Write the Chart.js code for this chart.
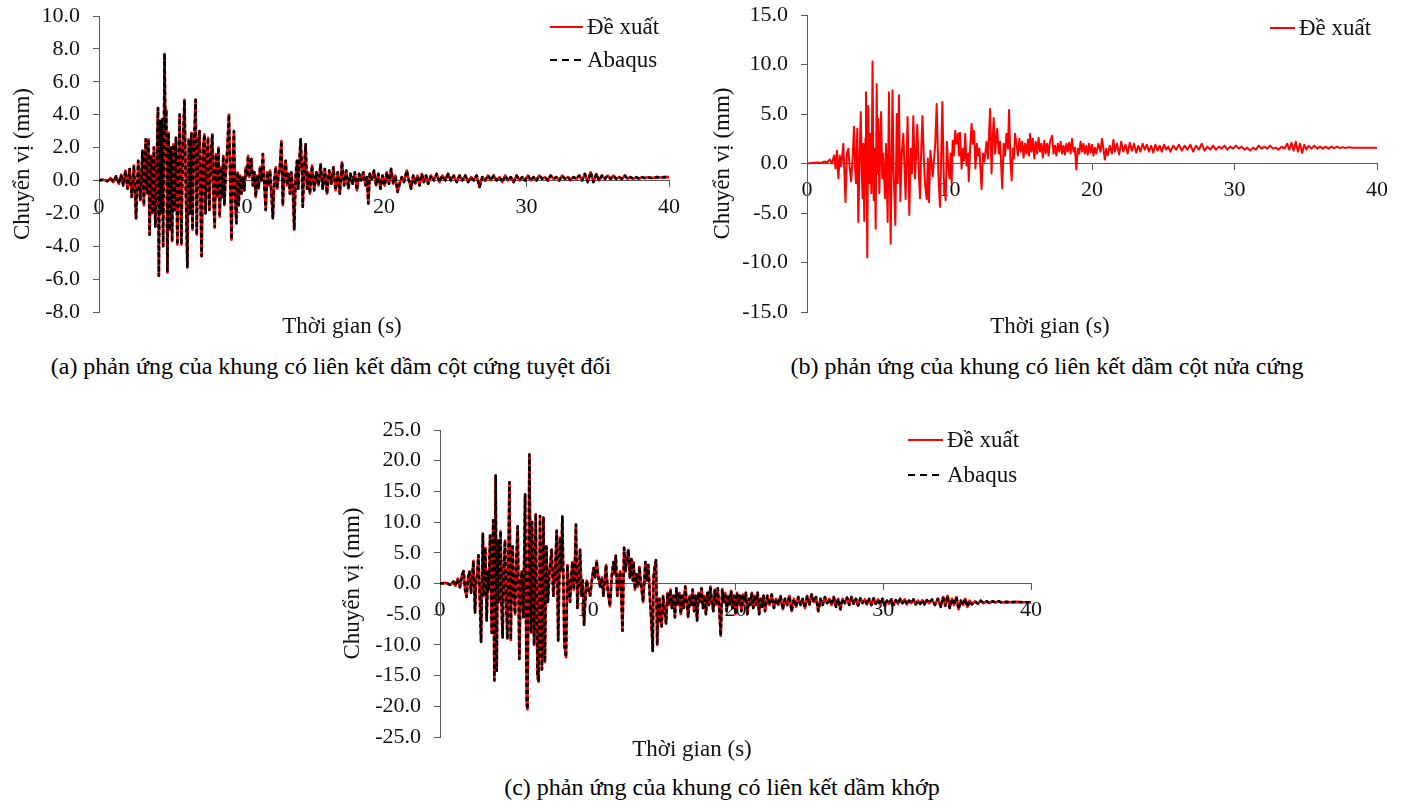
<!DOCTYPE html>
<html>
<head>
<meta charset="utf-8">
<script src="https://cdn.jsdelivr.net/npm/chart.js@4.4.0/dist/chart.umd.min.js"></script>
<style>
  body { margin: 0; background: #fff; width: 1402px; height: 804px; position: relative; overflow: hidden; font-family: 'Liberation Serif', 'Times New Roman', serif; }
  .box { position: absolute; }
  .cap { position: absolute; font-size: 24px; color: #000; white-space: nowrap; transform: translate(-50%, -50%); }
</style>
</head>
<body>
<div class="box" style="left:0;top:0;width:700px;height:345px"><canvas id="chartA"></canvas></div>
<div class="box" style="left:700px;top:0;width:702px;height:345px"><canvas id="chartB"></canvas></div>
<div class="box" style="left:330px;top:415px;width:720px;height:350px"><canvas id="chartC"></canvas></div>
<div class="cap" style="left:331px;top:366px">(a) phản ứng của khung có liên kết dầm cột cứng tuyệt đối</div>
<div class="cap" style="left:1047px;top:366px">(b) phản ứng của khung có liên kết dầm cột nửa cứng</div>
<div class="cap" style="left:722px;top:787px">(c) phản ứng của khung có liên kết dầm khớp</div>
<script>
// (a) rigid connection - time (s) and displacement (mm)
const timeA = [
  0, 0.3, 0.6, 0.8, 1.0, 1.2, 1.4, 1.55, 1.7, 1.85,
  2.0, 2.15, 2.3, 2.45, 2.6, 2.75, 2.9, 3.05, 3.15, 3.28,
  3.38, 3.47, 3.55, 3.65, 3.75, 3.85, 3.95, 4.05, 4.14, 4.2,
  4.28, 4.35, 4.42, 4.5, 4.6, 4.66, 4.72, 4.8, 4.88, 4.96,
  5.05, 5.13, 5.22, 5.3, 5.4, 5.5, 5.6, 5.66, 5.78, 5.88,
  6.0, 6.1, 6.2, 6.3, 6.4, 6.48, 6.56, 6.65, 6.78, 6.86,
  6.95, 7.06, 7.13, 7.2, 7.3, 7.4, 7.48, 7.56, 7.65, 7.74,
  7.85, 7.95, 8.05, 8.12, 8.2, 8.3, 8.38, 8.47, 8.56, 8.65,
  8.72, 8.8, 8.9, 9.0, 9.12, 9.2, 9.3, 9.38, 9.47, 9.55,
  9.64, 9.72, 9.8, 9.9, 10.0, 10.1, 10.2, 10.3, 10.4, 10.46,
  10.55, 10.62, 10.7, 10.8, 10.9, 11.0, 11.1, 11.2, 11.3, 11.4,
  11.5, 11.6, 11.7, 11.8, 11.9, 12.0, 12.1, 12.2, 12.3, 12.4,
  12.5, 12.6, 12.7, 12.8, 12.9, 13.0, 13.1, 13.2, 13.3, 13.4,
  13.5, 13.6, 13.7, 13.8, 13.9, 13.98, 14.05, 14.15, 14.25, 14.3,
  14.4, 14.5, 14.6, 14.7, 14.8, 14.95, 15.1, 15.25, 15.4, 15.55,
  15.7, 15.85, 16.0, 16.15, 16.3, 16.45, 16.6, 16.75, 16.9, 17.05,
  17.2, 17.35, 17.5, 17.65, 17.8, 17.95, 18.1, 18.25, 18.4, 18.55,
  18.7, 18.8, 18.9, 19.0, 19.15, 19.3, 19.45, 19.6, 19.75, 19.9,
  20.05, 20.2, 20.35, 20.5, 20.65, 20.8, 20.95, 21.1, 21.25, 21.4,
  21.6, 21.75, 21.9, 22.05, 22.2, 22.35, 22.5, 22.65, 22.8, 22.95,
  23.1, 23.3, 23.5, 23.7, 23.9, 24.1, 24.3, 24.5, 24.7, 24.9,
  25.1, 25.3, 25.5, 25.7, 25.9, 26.1, 26.3, 26.5, 26.7, 26.9,
  27.1, 27.3, 27.5, 27.7, 27.9, 28.1, 28.3, 28.5, 28.7, 28.9,
  29.1, 29.3, 29.5, 29.7, 29.9, 30.1, 30.3, 30.5, 30.7, 30.9,
  31.1, 31.3, 31.5, 31.7, 31.9, 32.1, 32.3, 32.5, 32.7, 32.9,
  33.1, 33.3, 33.5, 33.7, 33.9, 34.1, 34.3, 34.5, 34.7, 34.9,
  35.1, 35.3, 35.5, 35.7, 35.9, 36.1, 36.3, 36.5, 36.7, 36.9,
  37.1, 37.3, 37.5, 37.7, 37.9, 38.1, 38.3, 38.5, 38.8, 39.1,
  39.4, 39.7, 40.0
];
const deXuatA = [
  0, 0.05, -0.05, 0.15, -0.1, 0.25, -0.2, 0.35, -0.3, 0.6,
  -0.5, 0.7, -1.0, 0.9, -2.3, 1.2, -1.2, 1.8, -1.5, 2.5,
  -0.8, 2.5, -3.3, 1.5, -2.0, 2.0, -2.8, 1.0, 4.4, -5.8,
  3.6, -2.0, 3.7, -4.0, 7.7, 3.0, 4.3, -5.6, 2.9, -3.0,
  2.0, -3.7, 2.2, -1.8, 2.6, -3.9, 1.0, 4.0, -3.9, 2.0,
  4.9, -1.0, -5.3, 2.5, -2.0, 2.9, -3.0, 1.5, 4.9, -3.3,
  2.2, 3.0, -1.5, -4.6, 2.0, 2.8, -2.0, 1.0, 2.6, -1.8,
  1.5, 2.8, -1.5, -2.85, 1.6, -1.0, 2.0, -2.2, 0.8, -1.0,
  1.5, -1.5, 0.5, 1.8, 4.0, 0.5, -3.6, 1.0, 3.0, -1.0,
  -2.6, 0.5, -1.5, 0.3, -0.8, 0.2, -0.6, 0.8, 0.3, 1.5,
  0.2, 1.0, 1.3, -0.3, 0.5, -1.0, 0.3, -0.5, 0.8, 0.0,
  1.6, -0.2, -1.8, 0.5, -0.3, 0.6, -0.8, -2.3, 0.0, 0.8,
  -0.5, 0.3, 0.9, 2.4, -1.5, 0.5, 1.2, -0.3, 0.4, -0.8,
  0.5, -0.5, -3.0, 0.3, 1.2, -0.5, 1.0, 2.5, 0.5, -1.6,
  0.8, 2.2, -0.5, 0.5, -0.8, 0.9, -0.6, 0.5, -0.3, 1.0,
  -0.5, 0.7, -0.8, 0.6, -0.2, 0.8, -0.6, 0.5, -0.8, 1.1,
  -0.3, 0.6, -0.5, 0.4, -0.2, 0.5, -0.6, 0.4, 0.0, 0.5,
  -0.3, 0.2, -1.4, 0.4, 0.1, 0.6, -0.3, 0.4, -0.5, 0.3,
  -0.3, 0.5, -0.2, 0.7, -0.2, 0.3, -0.7, -0.2, 0.2, -0.1,
  0.6, 0.0, -0.5, 0.3, -0.2, 0.3, -0.3, 0.4, -0.1, 0.3,
  -0.2, 0.3, 0.0, 0.4, -0.1, 0.3, 0.0, 0.4, 0.0, 0.3,
  -0.1, 0.3, 0.0, 0.3, -0.1, 0.2, 0.0, 0.3, -0.4, 0.2,
  0.0, 0.3, 0.0, 0.3, 0.0, 0.2, -0.1, 0.3, 0.0, 0.2,
  -0.1, 0.3, 0.0, 0.2, 0.0, 0.3, 0.0, 0.2, 0.0, 0.3,
  0.1, 0.2, 0.0, 0.3, 0.1, 0.2, 0.0, 0.3, 0.1, 0.2,
  0.0, 0.2, 0.1, 0.3, 0.0, 0.4, -0.1, 0.5, -0.1, 0.4,
  0.0, 0.3, 0.1, 0.3, 0.1, 0.3, 0.1, 0.2, 0.1, 0.3,
  0.1, 0.2, 0.1, 0.2, 0.1, 0.2, 0.15, 0.2, 0.15, 0.2,
  0.18, 0.2, 0.2
];
// the Abaqus curve lies on top of the proposed one in (a)
const abaqusA = deXuatA;

// (b) semi-rigid connection
const timeB = [
  0, 0.4, 0.8, 1.0, 1.2, 1.4, 1.6, 1.75, 1.9, 2.0,
  2.1, 2.2, 2.3, 2.4, 2.55, 2.7, 2.8, 2.9, 3.0, 3.1,
  3.2, 3.3, 3.38, 3.44, 3.53, 3.6, 3.7, 3.77, 3.85, 3.9,
  3.95, 4.02, 4.1, 4.14, 4.23, 4.3, 4.38, 4.45, 4.52, 4.6,
  4.68, 4.75, 4.82, 4.89, 4.95, 5.0, 5.08, 5.14, 5.2, 5.28,
  5.35, 5.47, 5.55, 5.66, 5.75, 5.87, 6.0, 6.08, 6.2, 6.3,
  6.37, 6.45, 6.55, 6.65, 6.76, 6.92, 7.0, 7.06, 7.18, 7.28,
  7.37, 7.46, 7.58, 7.66, 7.74, 7.85, 7.93, 8.02, 8.1, 8.2,
  8.28, 8.4, 8.48, 8.56, 8.66, 8.74, 8.82, 8.92, 9.0, 9.1,
  9.22, 9.33, 9.42, 9.5, 9.6, 9.73, 9.82, 9.9, 10.0, 10.08,
  10.15, 10.22, 10.3, 10.4, 10.5, 10.6, 10.66, 10.74, 10.85, 10.95,
  11.02, 11.1, 11.2, 11.3, 11.35, 11.45, 11.55, 11.63, 11.72, 11.82,
  11.92, 12.0, 12.1, 12.25, 12.35, 12.45, 12.6, 12.7, 12.85, 12.95,
  13.02, 13.1, 13.2, 13.28, 13.35, 13.45, 13.55, 13.7, 13.8, 13.9,
  14.0, 14.1, 14.18, 14.27, 14.36, 14.45, 14.52, 14.6, 14.7, 14.8,
  14.9, 15.0, 15.1, 15.2, 15.3, 15.4, 15.5, 15.58, 15.65, 15.75,
  15.85, 15.95, 16.05, 16.15, 16.25, 16.35, 16.45, 16.55, 16.65, 16.75,
  16.85, 16.95, 17.05, 17.2, 17.3, 17.4, 17.5, 17.6, 17.7, 17.8,
  17.9, 18.0, 18.1, 18.2, 18.3, 18.4, 18.5, 18.6, 18.7, 18.8,
  18.9, 19.0, 19.1, 19.2, 19.3, 19.4, 19.5, 19.6, 19.7, 19.8,
  19.9, 20.0, 20.1, 20.2, 20.3, 20.45, 20.6, 20.7, 20.8, 20.9,
  21.0, 21.1, 21.25, 21.4, 21.5, 21.6, 21.75, 21.9, 22.05, 22.2,
  22.35, 22.5, 22.65, 22.8, 22.95, 23.1, 23.25, 23.4, 23.55, 23.7,
  23.85, 24.0, 24.15, 24.3, 24.45, 24.6, 24.75, 24.9, 25.05, 25.2,
  25.35, 25.5, 25.7, 25.9, 26.1, 26.3, 26.5, 26.7, 26.9, 27.1,
  27.3, 27.5, 27.7, 27.9, 28.1, 28.3, 28.5, 28.7, 28.9, 29.1,
  29.3, 29.5, 29.7, 29.9, 30.1, 30.3, 30.5, 30.7, 30.9, 31.1,
  31.3, 31.5, 31.7, 31.9, 32.1, 32.3, 32.5, 32.7, 32.9, 33.1,
  33.3, 33.5, 33.7, 33.85, 34.0, 34.15, 34.3, 34.45, 34.6, 34.75,
  34.9, 35.05, 35.2, 35.4, 35.6, 35.8, 36.0, 36.2, 36.4, 36.6,
  36.8, 37.0, 37.2, 37.4, 37.6, 37.8, 38.0, 38.3, 38.6, 39.0,
  39.5, 40.0
];
const deXuatB = [
  0, 0.05, 0.1, 0.05, 0.2, 0.1, 0.4, 0.0, 0.8, -0.5,
  1.3, -1.5, 0.8, -0.3, 2.0, -3.9, 1.0, 1.5, -0.5, -1.8,
  0.5, 3.7, -0.5, -2.0, 3.5, -5.9, 1.0, 5.2, -1.0, -3.5,
  2.0, -5.8, 2.5, 7.2, -9.5, 5.8, -2.0, 3.0, -3.0, 10.3,
  -3.7, 1.5, -6.6, 8.0, -1.0, 4.5, -3.0, 2.0, 5.2, -1.5,
  1.0, -3.5, 2.0, -5.9, 7.2, -8.1, 7.4, -1.0, -6.2, 5.0,
  -2.0, 6.9, -3.8, 1.0, 3.0, -3.6, 1.0, 4.7, -5.2, 1.5,
  -1.0, 4.8, -1.5, 1.0, 3.9, -1.0, -3.5, 1.5, 4.8, 0.5,
  -2.0, -3.6, 0.5, -3.9, 1.3, 0.0, -1.3, 0.5, 2.0, 6.0,
  -1.0, -4.4, 1.0, 6.2, -1.5, -3.7, 2.2, 0.0, -1.5, 1.0,
  -2.0, 2.3, 0.8, 3.3, 2.0, 3.0, 0.8, 3.1, -0.5, 1.5,
  0.3, 3.0, -0.2, 1.0, -1.8, 1.5, 4.0, 2.0, 3.3, -0.5,
  2.0, 0.8, 1.5, -2.6, 1.0, 0.2, 2.2, 0.5, 5.5, -1.0,
  2.0, 4.6, 1.0, 2.5, 3.5, 1.0, 2.2, -2.5, 2.0, 0.8,
  3.0, 1.5, 5.4, 0.5, -1.7, 1.5, 0.5, 3.0, 2.0, 0.8,
  2.5, 1.2, 2.2, 0.6, 2.0, 1.0, 2.4, 0.8, 3.0, 1.2,
  2.5, 0.5, 2.2, 1.0, 2.6, 1.2, 2.0, 0.6, 2.3, 1.0,
  2.0, 0.8, 2.2, 2.8, 1.0, 1.8, 0.8, 2.0, 1.2, 2.2,
  1.0, 1.8, 0.9, 2.0, 1.2, 2.1, 1.0, 2.5, 1.2, 1.6,
  -0.6, 1.5, 1.0, 2.2, 1.2, 2.0, 1.0, 1.8, 0.9, 2.0,
  1.1, 1.9, 0.8, 1.6, 1.0, 2.0, 1.2, 2.5, 1.5, 0.4,
  1.5, 0.8, 1.8, 1.0, 2.4, 1.2, 2.0, 0.9, 2.2, 1.2,
  1.9, 1.0, 2.1, 1.3, 2.0, 1.1, 1.8, 1.2, 2.0, 1.4,
  1.9, 1.2, 1.8, 1.1, 1.9, 1.3, 1.8, 1.2, 1.9, 1.4,
  1.7, 1.2, 1.8, 1.4, 1.9, 1.3, 1.8, 1.4, 1.9, 1.2,
  1.8, 1.4, 2.0, 1.3, 1.7, 1.4, 1.8, 1.4, 1.7, 1.5,
  1.8, 1.4, 1.7, 1.5, 1.8, 1.5, 1.7, 1.4, 1.6, 1.3,
  1.6, 1.4, 1.8, 1.5, 1.7, 1.5, 1.8, 1.5, 1.6, 1.4,
  1.7, 1.5, 2.0, 1.4, 2.1, 1.3, 2.2, 1.2, 2.0, 1.05,
  1.9, 1.4, 1.8, 1.5, 1.8, 1.5, 1.7, 1.5, 1.7, 1.5,
  1.7, 1.55, 1.7, 1.55, 1.65, 1.55, 1.65, 1.6, 1.6, 1.6,
  1.6, 1.6
];

// (c) pinned connection
const timeC = [
  0, 0.4, 0.7, 0.9, 1.05, 1.2, 1.35, 1.5, 1.6, 1.7,
  1.8, 1.9, 2.0, 2.1, 2.18, 2.26, 2.37, 2.45, 2.52, 2.6,
  2.7, 2.78, 2.9, 2.98, 3.07, 3.16, 3.25, 3.3, 3.39, 3.5,
  3.6, 3.68, 3.77, 3.84, 3.9, 3.95, 4.02, 4.1, 4.17, 4.24,
  4.32, 4.4, 4.48, 4.56, 4.63, 4.7, 4.79, 4.86, 4.92, 5.0,
  5.08, 5.17, 5.26, 5.37, 5.45, 5.53, 5.64, 5.76, 5.87, 5.92,
  6.05, 6.16, 6.23, 6.3, 6.37, 6.48, 6.6, 6.68, 6.77, 6.9,
  7.0, 7.1, 7.2, 7.3, 7.42, 7.56, 7.67, 7.78, 7.9, 8.0,
  8.12, 8.2, 8.28, 8.42, 8.53, 8.62, 8.72, 8.8, 8.88, 8.96,
  9.05, 9.12, 9.2, 9.3, 9.4, 9.48, 9.58, 9.66, 9.75, 9.85,
  9.93, 10.05, 10.16, 10.28, 10.4, 10.5, 10.6, 10.72, 10.84, 10.95,
  11.06, 11.15, 11.24, 11.35, 11.5, 11.62, 11.74, 11.82, 11.9, 12.0,
  12.1, 12.2, 12.28, 12.35, 12.46, 12.55, 12.65, 12.75, 12.85, 12.95,
  13.05, 13.1, 13.2, 13.3, 13.4, 13.5, 13.6, 13.75, 13.9, 14.0,
  14.1, 14.2, 14.3, 14.4, 14.45, 14.55, 14.62, 14.7, 14.78, 14.85,
  14.92, 15.0, 15.1, 15.2, 15.3, 15.4, 15.5, 15.6, 15.7, 15.8,
  15.9, 16.0, 16.1, 16.2, 16.3, 16.4, 16.5, 16.6, 16.7, 16.8,
  16.9, 17.0, 17.1, 17.2, 17.3, 17.4, 17.5, 17.6, 17.7, 17.8,
  17.9, 18.0, 18.1, 18.2, 18.3, 18.4, 18.5, 18.6, 18.7, 18.8,
  18.9, 19.0, 19.1, 19.2, 19.3, 19.4, 19.5, 19.6, 19.7, 19.8,
  19.9, 20.0, 20.1, 20.2, 20.3, 20.4, 20.5, 20.6, 20.7, 20.8,
  20.9, 21.0, 21.1, 21.2, 21.3, 21.4, 21.5, 21.6, 21.7, 21.8,
  21.9, 22.0, 22.15, 22.3, 22.45, 22.6, 22.75, 22.9, 23.05, 23.2,
  23.35, 23.5, 23.65, 23.8, 23.95, 24.1, 24.25, 24.4, 24.55, 24.7,
  24.85, 25.0, 25.15, 25.3, 25.45, 25.6, 25.75, 25.9, 26.05, 26.2,
  26.35, 26.5, 26.65, 26.8, 26.95, 27.1, 27.25, 27.4, 27.55, 27.7,
  27.85, 28.0, 28.15, 28.3, 28.45, 28.6, 28.75, 28.9, 29.05, 29.2,
  29.35, 29.5, 29.65, 29.8, 29.95, 30.1, 30.25, 30.4, 30.55, 30.7,
  30.85, 31.0, 31.15, 31.3, 31.45, 31.6, 31.75, 31.9, 32.05, 32.2,
  32.35, 32.5, 32.65, 32.8, 32.95, 33.1, 33.3, 33.5, 33.7, 33.9,
  34.05, 34.2, 34.35, 34.5, 34.65, 34.8, 34.95, 35.1, 35.25, 35.4,
  35.55, 35.7, 35.85, 36.0, 36.2, 36.4, 36.6, 36.8, 37.0, 37.2,
  37.4, 37.6, 37.8, 38.0, 38.3, 38.6, 39.0, 39.5, 40.0
];
const deXuatC = [
  0, 0.1, -0.2, 0.3, -0.4, 0.8, -0.6, 1.5, 2.0, -1.0,
  -2.2, 1.0, 2.0, -1.5, 1.0, 3.7, -4.7, 0.5, 1.5, 4.6,
  -3.0, -9.5, 8.1, -2.0, 5.8, -6.0, 2.0, -1.0, 7.8, -8.0,
  10.3, -15.8, 17.6, -14.2, 2.0, 7.0, -3.0, 8.5, -4.0, -8.8,
  3.0, 7.0, -3.0, -9.0, 4.0, 16.5, -9.2, 2.0, 6.0, -2.0,
  -5.0, 4.0, 9.3, -12.3, -1.0, 2.0, -5.5, 14.5, -19.5, -20.5,
  21.0, -8.0, 10.0, 2.0, -10.0, 11.3, -15.2, -16.0, 11.0, -14.0,
  10.8, -12.8, 6.0, -3.0, 2.0, 5.5, -2.0, 1.5, 8.6, -9.3,
  7.5, 2.0, 11.0, -10.0, -12.0, 3.0, -1.0, -3.0, 1.0, 3.5,
  -1.0, 2.0, 9.6, -4.0, 1.0, 5.5, -2.0, 0.5, -6.7, -2.0,
  0.5, -1.0, -2.0, 0.5, 2.5, 1.0, 3.7, 1.0, -0.5, 1.0,
  -2.0, 0.5, 3.0, -1.0, -3.7, 1.0, 3.5, 1.5, 4.5, -2.0,
  0.5, 2.0, -2.5, -7.7, 5.8, 2.0, 4.0, 5.5, 1.0, 4.0,
  0.5, 3.5, -1.0, 1.5, -0.5, 2.7, 0.0, -3.0, 3.5, 0.5,
  3.0, -2.0, -6.0, -11.0, 1.0, 3.0, 3.8, -10.0, -4.0, -2.5,
  -6.0, -7.0, -2.0, -4.5, -6.5, -1.5, -3.5, -1.0, -4.0, -2.0,
  -5.5, -0.8, -3.5, -1.5, -5.0, -2.0, -4.0, -0.5, -3.0, -5.5,
  -2.0, -3.5, -1.0, -4.5, -2.0, -6.0, -1.5, -3.0, -0.8, -4.0,
  -2.0, -5.0, -1.5, -3.5, -0.5, -3.0, -4.5, -1.0, -3.5, -0.8,
  -4.0, -8.5, -0.9, -3.0, -1.5, -4.5, -2.0, -3.5, -1.2, -4.0,
  -2.0, -5.0, -1.5, -3.5, -2.0, -4.5, -1.8, -3.0, -1.5, -5.0,
  -2.5, -3.5, -1.5, -4.0, -2.0, -3.5, -1.5, -5.0, -2.5, -3.8,
  -2.0, -4.5, -2.0, -3.5, -1.8, -4.0, -2.5, -3.5, -2.0, -4.2,
  -2.5, -3.5, -2.0, -4.5, -2.5, -3.8, -2.2, -3.5, -2.5, -4.0,
  -2.0, -3.5, -1.8, -3.0, -2.2, -4.5, -2.5, -3.5, -2.2, -3.2,
  -2.5, -3.5, -2.2, -3.8, -2.5, -4.2, -2.5, -3.2, -2.3, -3.5,
  -2.2, -3.3, -2.5, -3.6, -2.4, -3.2, -2.6, -3.4, -2.5, -3.5,
  -2.4, -3.3, -2.6, -3.4, -2.5, -3.6, -2.8, -3.3, -2.6, -3.5,
  -2.7, -3.3, -2.5, -3.2, -2.6, -3.4, -2.8, -3.2, -2.6, -3.4,
  -2.8, -3.3, -2.7, -3.4, -2.7, -3.2, -2.6, -3.5, -2.5, -3.8,
  -2.2, -3.6, -2.0, -4.0, -2.5, -3.5, -2.2, -4.2, -2.8, -3.5,
  -2.5, -3.8, -2.8, -3.4, -2.9, -3.3, -2.8, -3.2, -2.9, -3.2,
  -2.9, -3.1, -2.9, -3.1, -3.0, -3.05, -3.0, -3.05, -3.05
];
// the Abaqus curve lies on top of the proposed one in (c)
const abaqusC = deXuatC;

const serif = "'Liberation Serif', 'Times New Roman', serif";
const axisColor = '#595959';
const textColor = '#111';

function pts(t, v) {
  return t.map((x, i) => ({ x: x, y: v[i] }));
}

// x-axis title and the small legend drawn inside the plot
const extraText = {
  id: 'extraText',
  afterDraw(chart, args, opts) {
    const ctx = chart.ctx;
    ctx.save();
    ctx.font = '23px ' + serif;
    ctx.fillStyle = textColor;
    ctx.textBaseline = 'middle';
    ctx.textAlign = 'center';
    ctx.fillText(opts.xTitle, opts.xTitleX, opts.xTitleY);
    ctx.textAlign = 'left';
    opts.legendY.forEach((y, i) => {
      const ds = chart.data.datasets[opts.legendOrder[i]];
      ctx.beginPath();
      ctx.setLineDash(ds.borderDash ? [7, 5] : []);
      ctx.strokeStyle = ds.borderColor;
      ctx.lineWidth = 2;
      ctx.moveTo(opts.legendX, y);
      ctx.lineTo(opts.legendX + opts.legendW, y);
      ctx.stroke();
      ctx.setLineDash([]);
      ctx.fillText(ds.label, opts.legendX + opts.legendW + 4, y + 1);
    });
    ctx.restore();
  }
};

function makeChart(id, datasets, yMin, yMax, yStep, pad, yWidth, extra) {
  return new Chart(document.getElementById(id), {
    type: 'line',
    data: { datasets: datasets },
    plugins: [extraText],
    options: {
      responsive: true,
      maintainAspectRatio: false,
      animation: false,
      layout: { padding: pad },
      elements: { point: { radius: 0 }, line: { tension: 0, borderJoinStyle: 'round' } },
      plugins: {
        legend: { display: false },
        tooltip: { enabled: false },
        extraText: extra
      },
      scales: {
        x: {
          type: 'linear',
          min: 0, max: 40,
          position: { y: 0 },
          ticks: { stepSize: 10, autoSkip: false, maxRotation: 0, padding: 8, color: textColor, font: { family: serif, size: 22 } },
          grid: { drawOnChartArea: false, tickLength: 6, color: axisColor },
          border: { color: axisColor, width: 1 }
        },
        y: {
          min: yMin, max: yMax,
          ticks: { stepSize: yStep, autoSkip: false, padding: 13, color: textColor, font: { family: serif, size: 22 },
            callback: v => v.toFixed(1) },
          grid: { drawOnChartArea: false, tickLength: 6, color: axisColor },
          border: { color: axisColor, width: 1 },
          title: { display: true, text: 'Chuyển vị (mm)', color: textColor, padding: 0, font: { family: serif, size: 23 } },
          afterFit: s => { s.width = yWidth; s.paddingTop = 8; s.paddingBottom = 8; }
        }
      }
    }
  });
}

function drawAll() {
  makeChart('chartA', [
    { label: 'Abaqus', data: pts(timeA, abaqusA), borderColor: '#000', borderWidth: 2.6, borderDash: [4, 3] },
    { label: 'Đề xuất', data: pts(timeA, deXuatA), borderColor: '#ff0000', borderWidth: 2.6 }
  ], -8, 10, 2, { left: 9, top: 16, right: 31, bottom: 33 }, 90,
    { xTitle: 'Thời gian (s)', xTitleX: 342, xTitleY: 327, legendX: 550, legendW: 33, legendY: [27, 60], legendOrder: [1, 0] });

  makeChart('chartB', [
    { label: 'Đề xuất', data: pts(timeB, deXuatB), borderColor: '#ff0000', borderWidth: 2 }
  ], -15, 15, 5, { left: 9, top: 15, right: 25, bottom: 33 }, 98,
    { xTitle: 'Thời gian (s)', xTitleX: 350, xTitleY: 327, legendX: 570, legendW: 25, legendY: [28], legendOrder: [0] });

  makeChart('chartC', [
    { label: 'Abaqus', data: pts(timeC, abaqusC), borderColor: '#000', borderWidth: 2.6, borderDash: [4, 3] },
    { label: 'Đề xuất', data: pts(timeC, deXuatC), borderColor: '#ff0000', borderWidth: 2.6 }
  ], -25, 25, 5, { left: 9, top: 15, right: 19, bottom: 28 }, 101,
    { xTitle: 'Thời gian (s)', xTitleX: 362, xTitleY: 335, legendX: 578, legendW: 35, legendY: [25, 60], legendOrder: [1, 0] });
}

// make sure the serif face is ready before the canvases measure text
document.fonts.load('22px "Liberation Serif"').then(drawAll, drawAll);
</script>
</body>
</html>
